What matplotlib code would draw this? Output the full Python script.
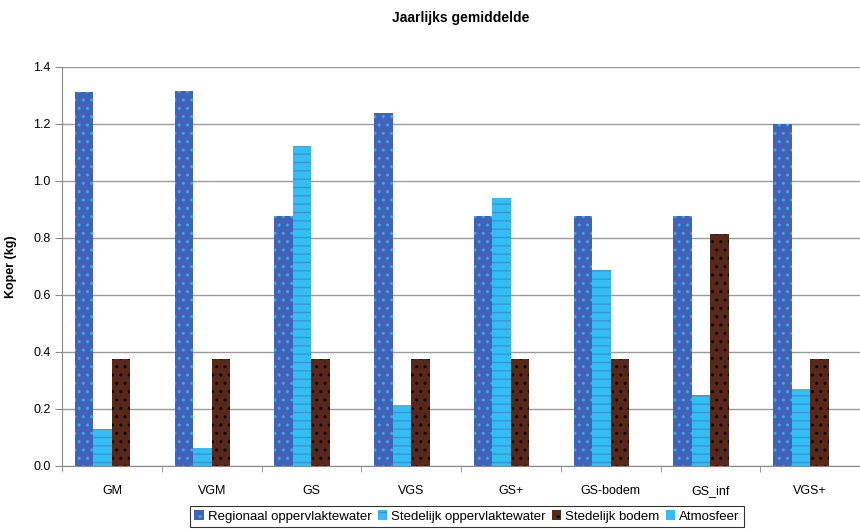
import matplotlib
matplotlib.use("Agg")
import matplotlib.pyplot as plt
import numpy as np

plt.rcParams['font.family'] = ['Liberation Sans', 'DejaVu Sans']
plt.rcParams['hatch.linewidth'] = 1.0

categories = ["GM", "VGM", "GS", "VGS", "GS+", "GS-bodem", "GS_inf", "VGS+"]
regionaal = [1.312, 1.316, 0.877, 1.240, 0.877, 0.877, 0.877, 1.200]
stedelijk_opp = [0.130, 0.064, 1.123, 0.213, 0.940, 0.686, 0.250, 0.270]
stedelijk_bodem = [0.377, 0.377, 0.377, 0.377, 0.377, 0.377, 0.815, 0.377]
atmosfeer = [0.0, 0.0, 0.0, 0.0, 0.0, 0.0, 0.0, 0.0]
series_names = ["Regionaal oppervlaktewater", "Stedelijk oppervlaktewater",
                "Stedelijk bodem", "Atmosfeer"]
yticks = [0.0, 0.2, 0.4, 0.6, 0.8, 1.0, 1.2, 1.4]

fig = plt.figure(figsize=(8.6, 5.29), dpi=100)
ax = fig.add_axes([0.0721, 0.1191, 0.9279, 0.7543])

x = np.arange(len(categories))
w = 0.185
styles = [
    dict(facecolor='#4262b8', edgecolor='#3aa8e8', hatch='..'),
    dict(facecolor='#33bdf0', edgecolor='#3a92dc', hatch='--'),
    dict(facecolor='#58281b', edgecolor='#0d0503', hatch='..'),
    dict(facecolor='#33bdf0', edgecolor='#33bdf0', hatch=None),
]
data = [regionaal, stedelijk_opp, stedelijk_bodem, atmosfeer]
offsets = np.array([-1.5, -0.5, 0.5, 1.5]) * w
handles = []
for d, st, off, name in zip(data, styles, offsets, series_names):
    b = ax.bar(x + off, d, width=w, linewidth=0, label=name, zorder=3, **st)
    handles.append(b)

ax.set_xlim(-0.5, len(categories) - 0.5)
ax.set_ylim(0, 1.4)
ax.set_yticks(yticks)
ax.set_yticklabels([f"{v:.1f}" for v in yticks], fontsize=9)
ax.yaxis.grid(True, color='#9a9a9a', linewidth=1.0, zorder=0)
ax.set_axisbelow(True)
for s in ['top', 'right']:
    ax.spines[s].set_visible(False)
ax.spines['left'].set_color('#888888')
ax.spines['bottom'].set_color('#888888')
ax.tick_params(axis='y', length=5, color='#888888', direction='out', pad=3)
ax.set_xticks(x)
ax.set_xticklabels(categories, fontsize=9)
ax.tick_params(axis='x', length=0, pad=14)
ax.set_xticks(np.arange(len(categories) + 1) - 0.5, minor=True)
ax.tick_params(axis='x', which='minor', length=4, color='#888888', direction='out')

ax.set_ylabel("Koper (kg)", fontsize=9, fontweight='bold', labelpad=12)
fig.text(0.536, 0.966, "Jaarlijks gemiddelde", ha='center', va='center',
         fontsize=10, fontweight='bold')

leg = fig.legend(handles=handles, labels=series_names, loc='lower center',
                 bbox_to_anchor=(0.543, -0.008), ncol=4, fontsize=9.5,
                 frameon=True, fancybox=False, edgecolor='black',
                 handlelength=0.7, handleheight=0.7, handletextpad=0.3,
                 columnspacing=0.5, borderpad=0.3)
leg.get_frame().set_linewidth(0.8)

fig.savefig("out.png", dpi=100)
